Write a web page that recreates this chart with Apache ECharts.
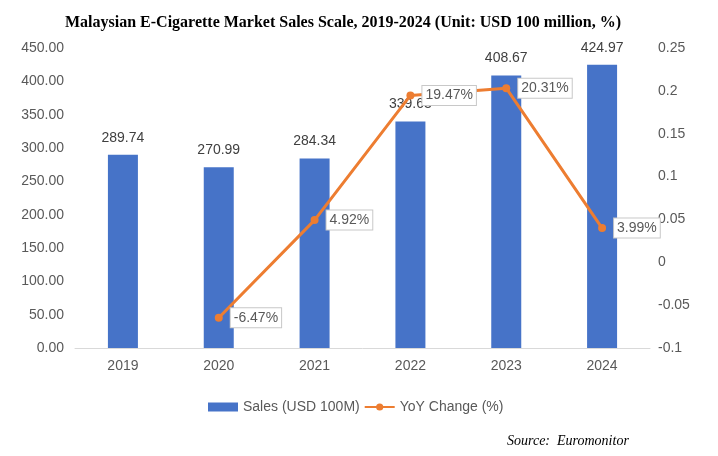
<!DOCTYPE html>
<html>
<head>
<meta charset="utf-8">
<script src="https://cdn.jsdelivr.net/npm/echarts@6/dist/echarts.min.js"></script>
<style>
  html, body { margin: 0; padding: 0; background: #fff; }
  #main { width: 718px; height: 456px; }
</style>
</head>
<body>
<div id="main"></div>
<script>
// 数据
var years = ['2019', '2020', '2021', '2022', '2023', '2024'];
var salesValues = [289.74, 270.99, 284.34, 339.63, 408.67, 424.97];
var yoyValues = [null, -0.0647, 0.0492, 0.1947, 0.2031, 0.0399];
var yoyLabels = ['', '-6.47%', '4.92%', '19.47%', '20.31%', '3.99%'];

var chart = echarts.init(document.getElementById('main'));
var textGrey = '#595959';
var baseFont = 'Liberation Sans, Arial, sans-serif';

var option = {
    animation: false,
    textStyle: { fontFamily: baseFont },
    title: [
        {
            text: 'Malaysian E-Cigarette Market Sales Scale, 2019-2024 (Unit: USD 100 million, %)',
            left: 338,
            top: 10,
            textAlign: 'center',
            textStyle: {
                fontFamily: 'Liberation Serif, Times New Roman, serif',
                fontWeight: 'bold',
                fontSize: 16,
                color: '#000'
            }
        },
        {
            text: 'Source:  Euromonitor',
            left: 502,
            top: 429,
            textStyle: {
                fontFamily: 'Liberation Serif, Times New Roman, serif',
                fontStyle: 'italic',
                fontWeight: 'normal',
                fontSize: 14,
                color: '#000'
            }
        }
    ],
    grid: { left: 75, right: 68, top: 48, height: 300 },
    legend: {
        left: 203,
        top: 395,
        itemWidth: 30,
        itemHeight: 9,
        itemGap: 4,
        textStyle: { color: textGrey, fontSize: 14, fontFamily: baseFont },
        data: [
            { name: 'Sales (USD 100M)', icon: 'rect' },
            { name: 'YoY Change (%)' }
        ]
    },
    xAxis: {
        type: 'category',
        data: years,
        axisLine: { lineStyle: { color: '#d9d9d9' } },
        axisTick: { show: false },
        axisLabel: { color: textGrey, fontSize: 14, margin: 11 }
    },
    yAxis: [
        {
            type: 'value',
            min: 0,
            max: 450,
            interval: 50,
            splitLine: { show: false },
            axisLine: { show: false },
            axisTick: { show: false },
            axisLabel: {
                color: textGrey,
                fontSize: 14,
                margin: 11,
                formatter: function (v) { return v.toFixed(2); }
            }
        },
        {
            type: 'value',
            min: -0.1,
            max: 0.25,
            interval: 0.05,
            splitLine: { show: false },
            axisLine: { show: false },
            axisTick: { show: false },
            axisLabel: {
                color: textGrey,
                fontSize: 14,
                margin: 8,
                formatter: function (v) { return String(parseFloat(v.toFixed(2))); }
            }
        }
    ],
    series: [
        {
            name: 'Sales (USD 100M)',
            type: 'bar',
            data: salesValues,
            barWidth: 30,
            itemStyle: { color: '#4673c8' },
            label: {
                show: true,
                position: 'top',
                distance: 10,
                color: '#404040',
                fontSize: 14,
                formatter: function (p) { return p.value.toFixed(2); }
            }
        },
        {
            name: 'YoY Change (%)',
            type: 'line',
            yAxisIndex: 1,
            data: yoyValues,
            symbol: 'circle',
            symbolSize: 8,
            lineStyle: { color: '#ed7d31', width: 3 },
            itemStyle: { color: '#ed7d31' },
            z: 5,
            label: {
                show: true,
                position: 'right',
                distance: 8,
                color: textGrey,
                fontSize: 14,
                backgroundColor: '#fff',
                borderColor: '#c8c8c8',
                borderWidth: 1,
                padding: [3, 3, 2, 3],
                formatter: function (p) { return yoyLabels[p.dataIndex]; }
            }
        }
    ]
};

chart.setOption(option);
</script>
</body>
</html>
